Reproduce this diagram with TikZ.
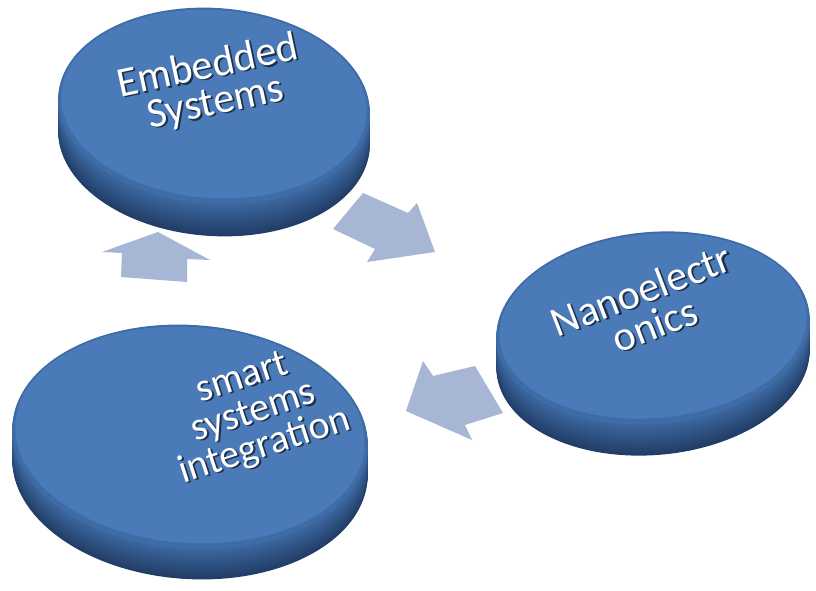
\documentclass[tikz,border=0pt]{standalone}
\usepackage{fontspec}
\setmainfont{Carlito}
\definecolor{faceC}{HTML}{4A7AB8}
\definecolor{rimC}{HTML}{3F6CA6}
\definecolor{sidetop}{HTML}{3C68A0}
\definecolor{sidebot}{HTML}{213D66}
\definecolor{arrowC}{HTML}{A7B6D4}
\definecolor{shadowC}{HTML}{1E2F4A}
\tikzset{
  blockarrow/.style={fill=arrowC, draw=none},
  disctext/.style={text=white, font=\fontsize{42}{37}\selectfont, align=center, inner sep=0pt}
}
% white text with a small dark drop shadow
\newcommand\shl[1]{\makebox[0pt][l]{\hspace{1.6pt}\raisebox{-1.6pt}{\textcolor{shadowC}{#1}}}#1}
% name, cx, cy, rx, ry, rot, thickness
\newcommand\mydisc[7]{%
  \foreach \i in {#7,...,1} {
    \pgfmathsetmacro\pc{100*\i/#7}
    \fill[sidebot!\pc!sidetop, shift={(#2,#3+\i)}, rotate=#6] (0,0) ellipse[x radius=#4pt, y radius=#5pt];
  }
  \fill[rimC, shift={(#2,#3)}, rotate=#6] (0,0) ellipse[x radius=#4pt, y radius=#5pt];
  \fill[faceC, shift={(#2,#3-2)}, rotate=#6] (0,0) ellipse[x radius=#4pt-3pt, y radius=#5pt-4pt];
  \coordinate (#1) at (#2,#3);
}
\begin{document}
\begin{tikzpicture}[x=1pt,y=-1pt]
\useasboundingbox (0,0) rectangle (816,591);
\fill[white] (0,0) rectangle (816,591);

% arrows (behind the discs)
\path[blockarrow] (363,193) -- (408,213) -- (417,203) -- (435,252) -- (367,262) -- (375,249) -- (333,229) -- cycle;
\path[blockarrow] (158,232) -- (210,260) -- (187,259) -- (187,282) -- (121,277) -- (122,253) -- (102,252) -- cycle;
\path[blockarrow] (406,411) -- (423,361) -- (433,376) -- (475,366) -- (503,413) -- (465,425) -- (472,440) -- cycle;

% discs
\mydisc{d1}{214}{106}{156}{98}{-4}{32}
\mydisc{d2}{653}{328}{157}{96}{5}{31}
\mydisc{d3}{190}{437}{178}{112}{-4}{30}

% texts
\node[disctext, rotate=12] (t1) at (212,86) {\shl{Embedded}\\\shl{Systems}};
\node[disctext, rotate=21] (t2) at (648,308) {\shl{Nanoelectr}\\\shl{onics}};
\node[disctext, rotate=18, font=\fontsize{40}{36}\selectfont] (t3) at (254,414) {\shl{smart}\\\shl{systems}\\\shl{integration}};
\end{tikzpicture}
\end{document}
